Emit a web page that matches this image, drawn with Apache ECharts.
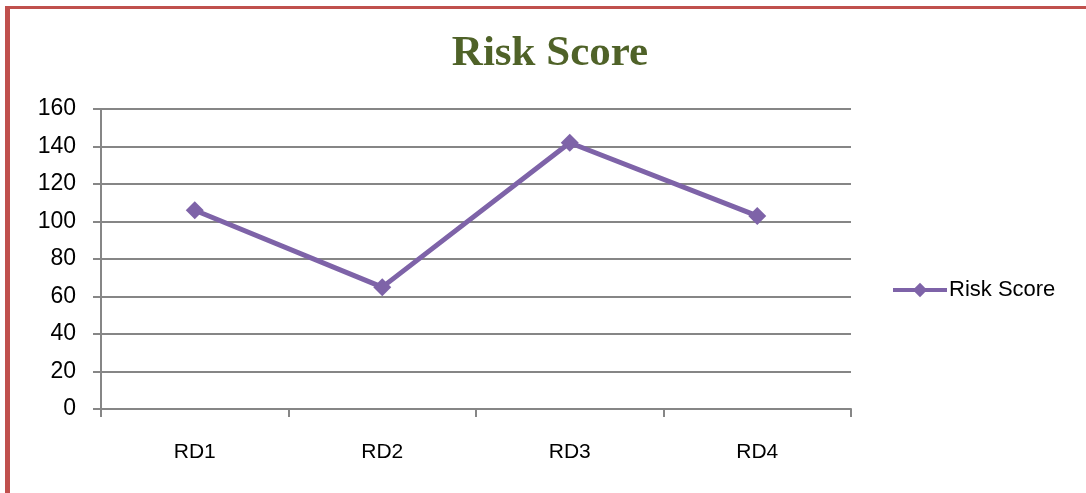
<!DOCTYPE html>
<html>
<head>
<meta charset="utf-8">
<script src="https://cdn.jsdelivr.net/npm/echarts@6/dist/echarts.min.js"></script>
<style>
  html, body { margin: 0; padding: 0; background: #ffffff; }
  #frame {
    position: absolute; left: 5px; top: 6px; width: 1081px; height: 487px;
    border-top: 3px solid #C0504D; border-left: 5px solid #C0504D;
    box-sizing: border-box;
  }
  #chart { position: absolute; left: 0; top: 0; width: 1086px; height: 493px; }
</style>
</head>
<body>
<div id="frame"></div>
<div id="chart"></div>
<script>
// Risk score per review domain
const categories = ['RD1', 'RD2', 'RD3', 'RD4'];
const riskScores = [106, 65, 142, 103];
const seriesName = 'Risk Score';
const yTicks = { min: 0, max: 160, interval: 20 };

const chart = echarts.init(document.getElementById('chart'), null, { renderer: 'canvas' });
const labelFont = '"Liberation Sans", Arial, sans-serif';
const gridColor = '#868686';
const purple = '#7E63A8';

chart.setOption({
  backgroundColor: 'transparent',
  animation: false,
  title: {
    text: 'Risk Score',
    left: 545, top: 27, textAlign: 'center',
    textStyle: {
      fontFamily: '"Liberation Serif", "Times New Roman", serif',
      fontWeight: 'bold', fontSize: 43, color: '#4F6228'
    }
  },
  legend: {
    data: [seriesName],
    left: 886, top: 274,
    itemWidth: 54, itemHeight: 18, itemGap: 4,
    lineStyle: { width: 4 },
    textStyle: { fontFamily: labelFont, fontSize: 22, color: '#000000', padding: [0, 0, 0, -3] }
  },
  grid: { left: 101, right: 235, top: 109, bottom: 84 },
  xAxis: {
    type: 'category',
    data: categories,
    boundaryGap: true,
    axisLine: { lineStyle: { color: gridColor, width: 2 } },
    axisTick: { show: true, length: 8, alignWithLabel: false, lineStyle: { color: gridColor, width: 2 } },
    axisLabel: { margin: 33, fontFamily: labelFont, fontSize: 21, color: '#000000' }
  },
  yAxis: {
    type: 'value',
    min: yTicks.min, max: yTicks.max, interval: yTicks.interval,
    axisLine: { show: true, lineStyle: { color: gridColor, width: 2 } },
    axisTick: { show: true, length: 8, lineStyle: { color: gridColor, width: 2 } },
    axisLabel: { margin: 25, fontFamily: labelFont, fontSize: 23, color: '#000000' },
    splitLine: { lineStyle: { color: gridColor, width: 2 } }
  },
  series: [{
    name: seriesName,
    type: 'line',
    data: riskScores,
    symbol: 'diamond',
    symbolSize: 18,
    lineStyle: { color: purple, width: 5 },
    itemStyle: { color: purple }
  }]
});
</script>
</body>
</html>
